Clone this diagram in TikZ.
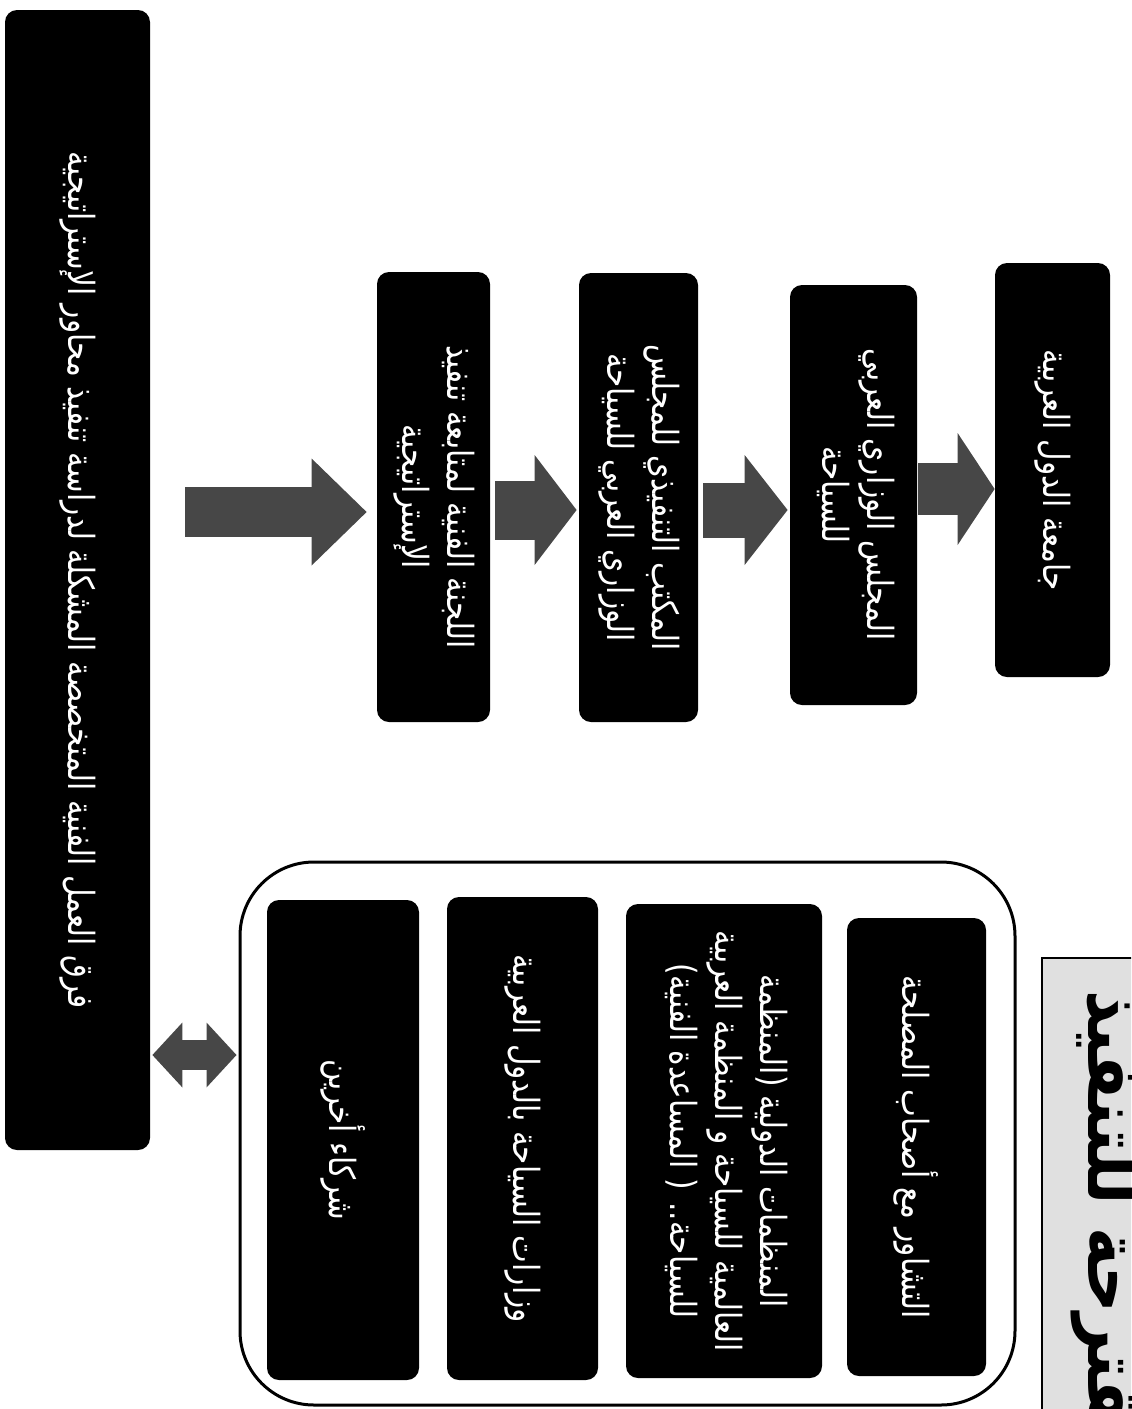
\documentclass[tikz,border=0pt]{standalone}
\usepackage{fontspec}
\usepackage{graphicx}
\usetikzlibrary{arrows.meta}
\TeXXeTstate=1
\newfontfamily\arfont[Script=Arabic,FakeStretch=0.82]{DejaVu Sans}
\newfontfamily\artitle[Script=Arabic,FakeStretch=0.9]{DejaVu Sans}
\newcommand{\vtext}[1]{\rotatebox{-90}{#1}}
\begin{document}
\begin{tikzpicture}[x=0.5pt,y=-0.5pt,
  blk/.style={fill=black, rounded corners=6pt, inner sep=0pt, text=white,
              font=\arfont\fontsize{18}{22.5}\selectfont},
  fat/.style n args={3}{line width=#1, draw=black!72,
              -{Triangle[length=#3, width=#2, line width=0pt]}},
  dfat/.style n args={3}{line width=#1, draw=black!72,
              {Triangle[length=#3, width=#2, line width=0pt]}-{Triangle[length=#3, width=#2, line width=0pt]}},
]
\useasboundingbox (0,0) rectangle (1131,1409);
\clip (0,0) rectangle (1131,1409);
\fill[white] (0,0) rectangle (1131,1409);

% long bar
\node[blk, minimum width=72.5pt, minimum height=570pt] (bar) at (77.5,580)
  {\vtext{\beginR فرق العمل الفنية المتخصصة المشكلة لدراسة تنفيذ محاور الإستراتيجية\endR}};

% chain of boxes
\node[blk, minimum width=56.5pt, minimum height=225pt] (b1) at (433.5,497)
  {\vtext{\begin{tabular}{@{}c@{}}\beginR اللجنة الفنية لمتابعة تنفيذ\endR\\\beginR الإستراتيجية\endR\end{tabular}}};
\node[blk, minimum width=59.5pt, minimum height=224.5pt] (b2) at (638.5,497.5)
  {\vtext{\begin{tabular}{@{}c@{}}\beginR المكتب التنفيذي للمجلس\endR\\\beginR الوزاري العربي للسياحة\endR\end{tabular}}};
\node[blk, minimum width=63.5pt, minimum height=210pt] (b3) at (853.5,495)
  {\vtext{\begin{tabular}{@{}c@{}}\beginR المجلس الوزاري العربي\endR\\\beginR للسياحة\endR\end{tabular}}};
\node[blk, minimum width=57.5pt, minimum height=207pt] (b4) at (1052.5,470)
  {\vtext{\beginR جامعة الدول العربية\endR}};

% arrows of the chain
\draw[fat={25pt}{53.5pt}{27.5pt}, shorten <=17.5pt, shorten >=5pt]
  (bar.east |- 0,512) -- (b1.west |- 0,512);
\draw[fat={29.5pt}{55pt}{21pt}, shorten <=2.5pt, shorten >=1pt]
  (b1.east |- 0,510) -- (b2.west |- 0,510);
\draw[fat={27.5pt}{55pt}{21.5pt}, shorten <=2.5pt, shorten >=1pt]
  (b2.east |- 0,510) -- (b3.west |- 0,510);
\draw[fat={26pt}{56pt}{18.5pt}, shorten <=0.5pt, shorten >=0pt]
  (b3.east |- 0,489) -- (b4.west |- 0,489);

% container of partners
\node[draw=black, line width=1.5pt, rounded corners=37pt, inner sep=0pt,
      minimum width=387.5pt, minimum height=271.5pt] (cont) at (627.5,1133.5) {};
\node[blk, minimum width=76pt, minimum height=240pt] (c1) at (343,1140)
  {\vtext{\beginR شركاء أخرين\endR}};
\node[blk, minimum width=75.5pt, minimum height=241.5pt] (c2) at (522.5,1138.5)
  {\vtext{\beginR وزارات السياحة بالدول العربية\endR}};
\node[blk, minimum width=98pt, minimum height=237pt] (c3) at (724,1141)
  {\vtext{\begin{tabular}{@{}c@{}}\beginR المنظمات الدولية (المنظمة\endR\\\beginR العالمية للسياحة و المنظمة العربية\endR\\\beginR للسياحة.. ( المساعدة الفنية)\endR\end{tabular}}};
\node[blk, minimum width=69.5pt, minimum height=229pt] (c4) at (916.5,1147)
  {\vtext{\beginR التشاور مع أصحاب المصلحة\endR}};

% double arrow between bar and container
\draw[dfat={15pt}{32.5pt}{15pt}, shorten <=1pt, shorten >=1pt]
  (bar.east |- 0,1055) -- (cont.west |- 0,1055);

% title fragment (cut by the page edge, as in the reference)
\node[fill=black!12, draw=black, line width=1pt, inner sep=0pt,
      minimum width=59pt, minimum height=241pt] (tbox) at (1101,1199) {};
\node[rotate=-90, anchor=base west, inner sep=0pt,
      font=\artitle\bfseries\fontsize{36}{40}\selectfont] (title) at (1088,990)
  {\beginR مقترحة للتنفيذ\endR};
\end{tikzpicture}
\end{document}
